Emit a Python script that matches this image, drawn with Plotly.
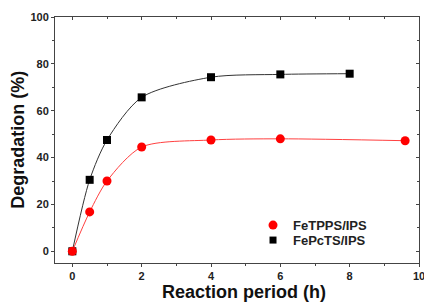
import plotly.graph_objects as go

# Data
t_pcts = [0, 0.5, 1, 2, 4, 6, 8]
deg_pcts = [0, 30.5, 47.5, 65.7, 74.3, 75.5, 75.8]
t_tpps = [0, 0.5, 1, 2, 4, 6, 9.6]
deg_tpps = [0, 16.8, 30.0, 44.5, 47.5, 48.0, 47.2]
name_tpps = "FeTPPS/IPS"
name_pcts = "FePcTS/IPS"
x_ticks = [0, 2, 4, 6, 8, 10]
y_ticks = [0, 20, 40, 60, 80, 100]
x_title = "Reaction period (h)"
y_title = "Degradation (%)"

FONT = "Liberation Sans, Arial, sans-serif"
AX = "#444444"

fig = go.Figure()
fig.add_trace(go.Scatter(x=t_pcts, y=deg_pcts, mode="lines+markers", line=dict(color="#333333", width=1, shape="spline", smoothing=0.8),
                         marker=dict(symbol="square", size=8, color="black"), showlegend=False))
fig.add_trace(go.Scatter(x=t_tpps, y=deg_tpps, mode="lines+markers", line=dict(color="#ff4040", width=1, shape="spline", smoothing=0.8),
                         marker=dict(symbol="circle", size=9, color="#ff0000"), showlegend=False))
# legend entries (markers only), each in its own legend box for tight spacing
fig.add_trace(go.Scatter(x=[None], y=[None], mode="markers", name=name_tpps, legend="legend",
                         marker=dict(symbol="circle", size=9, color="#ff0000")))
fig.add_trace(go.Scatter(x=[None], y=[None], mode="markers", name=name_pcts, legend="legend2",
                         marker=dict(symbol="square", size=7, color="black")))
# mirror axes holder
fig.add_trace(go.Scatter(x=[None], y=[None], xaxis="x2", yaxis="y2", showlegend=False, hoverinfo="skip"))

common = dict(showgrid=False, zeroline=False, showline=True, linecolor=AX, linewidth=1,
              tickcolor=AX, ticklen=3, tickwidth=1, automargin=False, ticklabeloverflow="allow")
leg = dict(xanchor="left", yanchor="top", bgcolor="rgba(0,0,0,0)",
           font=dict(size=13, family=FONT, weight="bold"), itemwidth=30)
fig.update_layout(
    width=424, height=302,
    margin=dict(l=55, r=5, t=17, b=39, autoexpand=False),
    paper_bgcolor="white", plot_bgcolor="white",
    font=dict(family=FONT, color="#222222"),
    xaxis=dict(range=[-0.5, 10], tickvals=x_ticks, ticks="outside",
               minor=dict(dtick=1, ticks="outside", ticklen=2, tickcolor=AX),
               tickfont=dict(size=11, family=FONT, weight="bold"), **common),
    yaxis=dict(range=[-5, 100], tickvals=y_ticks, ticks="outside",
               minor=dict(dtick=10, ticks="outside", ticklen=2, tickcolor=AX),
               tickfont=dict(size=11, family=FONT, weight="bold"), **common),
    xaxis2=dict(range=[-0.5, 10], overlaying="x", side="top", tickvals=x_ticks, ticks="inside",
                minor=dict(dtick=1, ticks="inside", ticklen=2, tickcolor=AX),
                showticklabels=False, **common),
    yaxis2=dict(range=[-5, 100], overlaying="y", side="right", tickvals=y_ticks, ticks="inside",
                minor=dict(dtick=10, ticks="inside", ticklen=2, tickcolor=AX),
                showticklabels=False, **common),
    legend=dict(x=0.544, y=0.215, **leg),
    legend2=dict(x=0.544, y=0.154, **leg),
    annotations=[
        dict(text="<b>%s</b>" % x_title, xref="paper", yref="paper", x=0.52, y=-0.118, yanchor="middle",
             xanchor="center", showarrow=False, font=dict(size=18, family=FONT, color="#111111")),
        dict(text="<b>%s</b>" % y_title, xref="paper", yref="paper", x=-0.102, y=0.5, xanchor="center",
             yanchor="middle", textangle=-90, showarrow=False, font=dict(size=18, family=FONT, color="#111111")),
    ],
)
fig.write_html("out.html", config={"displayModeBar": False},
               post_script="document.body.style.margin='0px';document.body.style.overflow='hidden';")
